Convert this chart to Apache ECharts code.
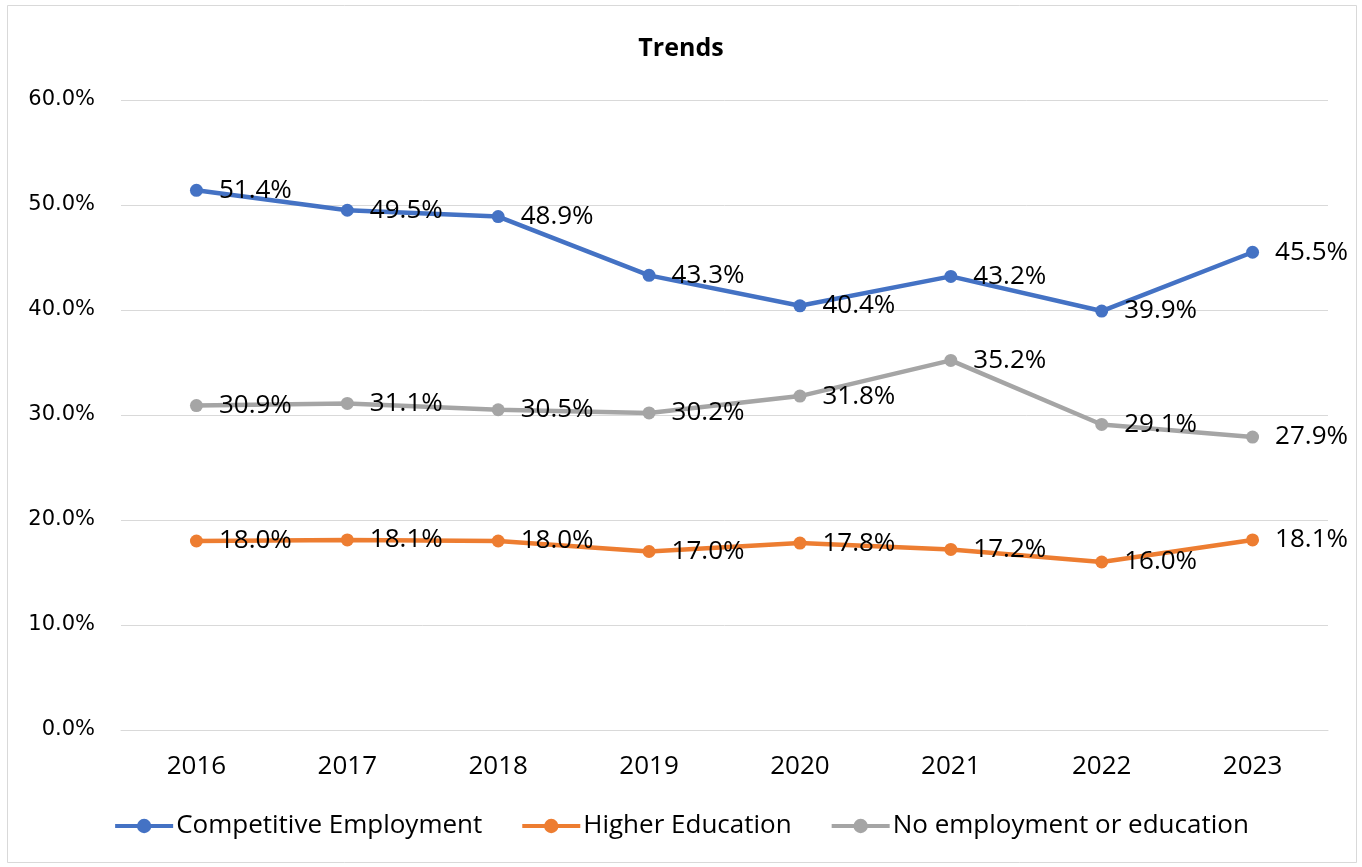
<!DOCTYPE html>
<html>
<head>
<meta charset="utf-8">
<script src="https://cdn.jsdelivr.net/npm/echarts@6/dist/echarts.min.js"></script>
<style>
  html, body { margin: 0; padding: 0; background: #fff; }
  #chart { width: 1362px; height: 867px; }
</style>
</head>
<body>
<div id="chart"></div>
<script>
  // 数据
  var years = ['2016', '2017', '2018', '2019', '2020', '2021', '2022', '2023'];
  var competitive = [51.4, 49.5, 48.9, 43.3, 40.4, 43.2, 39.9, 45.5];
  var higherEdu = [18.0, 18.1, 18.0, 17.0, 17.8, 17.2, 16.0, 18.1];
  var noEmployment = [30.9, 31.1, 30.5, 30.2, 31.8, 35.2, 29.1, 27.9];

  var font = '"Open Sans", "Noto Sans", sans-serif';

  function lineSeries(name, data, color) {
    return {
      name: name,
      type: 'line',
      data: data,
      symbol: 'circle',
      symbolSize: 13,
      lineStyle: { width: 4.5, color: color },
      itemStyle: { color: color },
      label: {
        show: true,
        position: 'right',
        distance: 16,
        color: '#000',
        fontSize: 26,
        fontFamily: font,
        formatter: function (p) { return p.value.toFixed(1) + '%'; }
      }
    };
  }

  var myChart = echarts.init(document.getElementById('chart'));
  myChart.setOption({
    backgroundColor: '#fff',
    animation: false,
    title: {
      text: 'Trends',
      left: 'center',
      top: 31,
      textStyle: { fontSize: 25, fontWeight: 'bold', color: '#000', fontFamily: font }
    },
    graphic: [{
      type: 'rect',
      shape: { x: 7.5, y: 5.5, width: 1349, height: 857 },
      style: { fill: 'none', stroke: '#d9d9d9', lineWidth: 1 }
    }],
    grid: {
      left: 121,
      right: 34,
      top: 100,
      bottom: 137,
      containLabel: false
    },
    legend: {
      top: 808,
      left: 'center',
      itemWidth: 58,
      itemHeight: 18,
      itemGap: 38,
      lineStyle: { width: 4 },
      textStyle: { fontSize: 26, color: '#000', fontFamily: font, padding: [0, 0, 0, -2] },
      data: ['Competitive Employment', 'Higher Education', 'No employment or education']
    },
    xAxis: {
      type: 'category',
      data: years,
      boundaryGap: true,
      axisLine: { lineStyle: { color: '#d9d9d9', width: 1 } },
      axisTick: { show: false },
      axisLabel: { color: '#000', fontSize: 26, fontFamily: font, margin: 24 }
    },
    yAxis: {
      type: 'value',
      min: 0,
      max: 60,
      interval: 10,
      axisLine: { show: false },
      axisTick: { show: false },
      axisLabel: {
        color: '#000',
        fontSize: 21,
        fontFamily: '"DejaVu Sans", sans-serif',
        margin: 26,
        formatter: function (v) { return v.toFixed(1) + '%'; }
      },
      splitLine: { lineStyle: { color: '#d9d9d9', width: 1 } }
    },
    series: [
      lineSeries('Competitive Employment', competitive, '#4472c4'),
      lineSeries('Higher Education', higherEdu, '#ed7d31'),
      lineSeries('No employment or education', noEmployment, '#a5a5a5')
    ]
  });
</script>
</body>
</html>
